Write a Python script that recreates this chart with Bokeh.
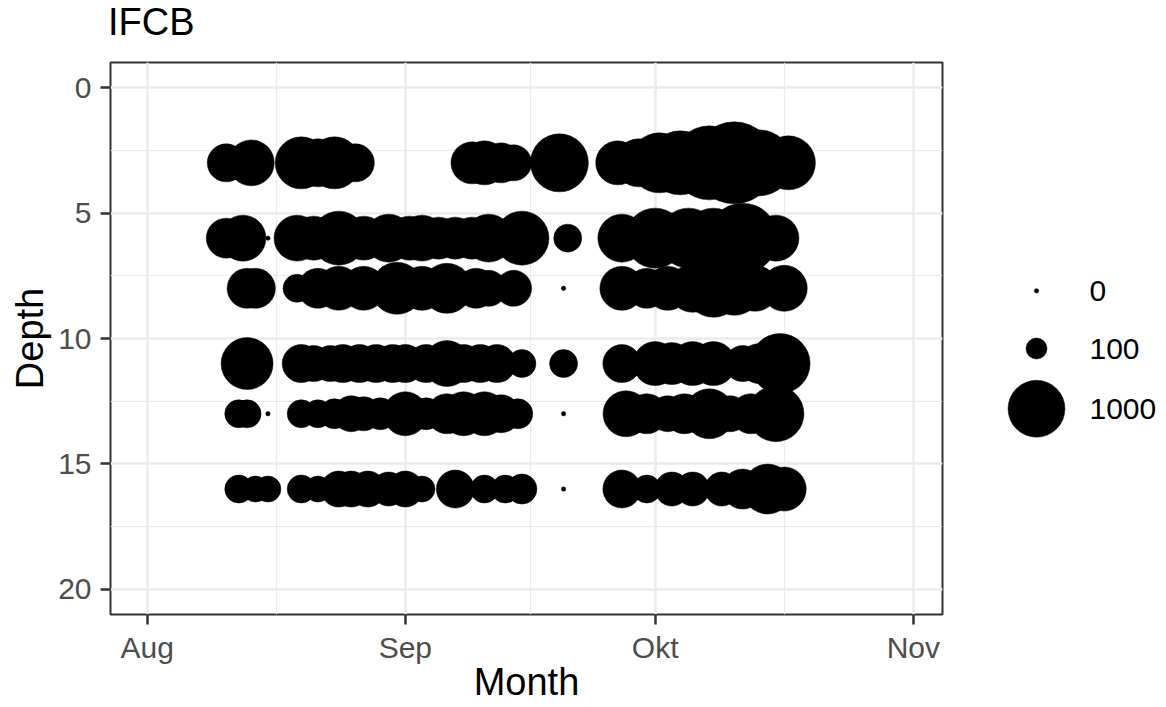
import numpy as np
import pandas as pd
from bokeh.plotting import figure
from bokeh.layouts import row, column
from bokeh.models import ColumnDataSource, Range1d, FixedTicker, SingleIntervalTicker, Div
from bokeh.embed import file_html
from bokeh.resources import INLINE
from bokeh.core.properties import value

title_text = "IFCB"
x_title = "Month"
y_title = "Depth"
month_starts = ["2021-08-01", "2021-09-01", "2021-10-01", "2021-11-01"]
month_labels = ["Aug", "Sep", "Okt", "Nov"]
month_mids = ["2021-08-16 12:00", "2021-09-16 00:00", "2021-10-16 12:00"]
legend_breaks = [0, 100, 1000]
depths = [3, 6, 8, 11, 13, 16]

dates_3 = ["2021-08-10 12:00", "2021-08-13 12:00", "2021-08-19 12:00", "2021-08-21 12:00",
           "2021-08-23 12:00", "2021-08-26 00:00", "2021-09-09 00:00", "2021-09-10 12:00",
           "2021-09-12 12:00", "2021-09-14 00:00", "2021-09-19 12:00", "2021-09-26 12:00",
           "2021-09-29 00:00", "2021-10-01 12:00", "2021-10-04 00:00", "2021-10-07 12:00",
           "2021-10-10 12:00", "2021-10-13 12:00", "2021-10-17 00:00"]
counts_3 = [410, 628, 822, 690, 822, 410, 513, 569, 460, 362, 1042, 569, 690, 1122, 1289,
            1758, 2184, 1377, 893]

dates_6 = ["2021-08-10 12:00", "2021-08-12 12:00", "2021-08-15 12:00", "2021-08-19 00:00",
           "2021-08-21 00:00", "2021-08-24 00:00", "2021-08-27 00:00", "2021-08-30 00:00",
           "2021-09-01 12:00", "2021-09-03 00:00", "2021-09-05 00:00", "2021-09-07 00:00",
           "2021-09-09 00:00", "2021-09-11 00:00", "2021-09-15 00:00", "2021-09-20 12:00",
           "2021-09-27 00:00", "2021-10-01 00:00", "2021-10-05 00:00", "2021-10-08 00:00",
           "2021-10-11 12:00", "2021-10-15 12:00"]
counts_6 = [460, 628, 0, 628, 569, 893, 569, 690, 569, 628, 513, 513, 513, 690, 893, 202,
            690, 1122, 1122, 1122, 1561, 628]

dates_8 = ["2021-08-13 00:00", "2021-08-14 00:00", "2021-08-19 00:00", "2021-08-21 12:00",
           "2021-08-24 00:00", "2021-08-27 00:00", "2021-08-31 00:00", "2021-09-03 00:00",
           "2021-09-06 00:00", "2021-09-09 12:00", "2021-09-11 00:00", "2021-09-14 00:00",
           "2021-09-20 00:00", "2021-09-27 00:00", "2021-09-30 00:00", "2021-10-02 12:00",
           "2021-10-05 12:00", "2021-10-08 00:00", "2021-10-10 12:00", "2021-10-13 00:00",
           "2021-10-16 12:00"]
counts_8 = [460, 460, 202, 460, 569, 569, 822, 569, 755, 460, 362, 362, 0, 569, 460, 569,
            690, 1042, 893, 628, 628]

dates_11 = ["2021-08-13 00:00", "2021-08-19 12:00", "2021-08-21 00:00", "2021-08-23 00:00",
            "2021-08-24 12:00", "2021-08-26 12:00", "2021-08-28 12:00", "2021-08-30 12:00",
            "2021-09-01 00:00", "2021-09-03 12:00", "2021-09-06 00:00", "2021-09-08 00:00",
            "2021-09-10 00:00", "2021-09-12 00:00", "2021-09-15 00:00", "2021-09-20 00:00",
            "2021-09-27 00:00", "2021-10-01 00:00", "2021-10-03 00:00", "2021-10-05 12:00",
            "2021-10-08 00:00", "2021-10-11 12:00", "2021-10-13 12:00", "2021-10-16 00:00"]
counts_11 = [822, 410, 362, 362, 410, 410, 410, 410, 410, 410, 628, 410, 410, 410, 202, 202,
             410, 569, 513, 569, 569, 362, 460, 1122]

dates_13 = ["2021-08-12 00:00", "2021-08-13 00:00", "2021-08-15 12:00", "2021-08-19 12:00",
            "2021-08-21 12:00", "2021-08-23 12:00", "2021-08-25 12:00", "2021-08-27 00:00",
            "2021-08-29 00:00", "2021-09-01 00:00", "2021-09-03 12:00", "2021-09-06 00:00",
            "2021-09-08 00:00", "2021-09-10 12:00", "2021-09-12 12:00", "2021-09-14 12:00",
            "2021-09-20 00:00", "2021-09-27 12:00", "2021-09-30 00:00", "2021-10-02 12:00",
            "2021-10-04 12:00", "2021-10-07 12:00", "2021-10-10 00:00", "2021-10-12 12:00",
            "2021-10-15 12:00"]
counts_13 = [202, 202, 0, 202, 202, 238, 362, 318, 276, 569, 276, 460, 569, 569, 410, 238,
             0, 628, 460, 362, 460, 755, 362, 460, 966]

dates_16 = ["2021-08-12 00:00", "2021-08-14 00:00", "2021-08-15 12:00", "2021-08-19 12:00",
            "2021-08-21 12:00", "2021-08-24 00:00", "2021-08-25 12:00", "2021-08-27 12:00",
            "2021-08-30 00:00", "2021-09-01 00:00", "2021-09-03 00:00", "2021-09-07 00:00",
            "2021-09-10 12:00", "2021-09-13 00:00", "2021-09-15 00:00", "2021-09-20 00:00",
            "2021-09-27 00:00", "2021-09-30 00:00", "2021-10-03 00:00", "2021-10-05 12:00",
            "2021-10-09 00:00", "2021-10-11 12:00", "2021-10-14 12:00", "2021-10-16 12:00"]
counts_16 = [202, 169, 169, 202, 169, 362, 362, 362, 318, 362, 169, 410, 202, 202, 238, 0,
             410, 202, 318, 318, 318, 460, 755, 569]

all_dates = [dates_3, dates_6, dates_8, dates_11, dates_13, dates_16]
all_counts = [counts_3, counts_6, counts_8, counts_11, counts_13, counts_16]

EPOCH = pd.Timestamp("1970-01-01")
def to_ms(s):
    return (pd.Timestamp(s) - EPOCH) / pd.Timedelta(milliseconds=1)

# area-like size scale (ggplot scale_size): radius in px grows with sqrt(count)
R0, RK = 2.2, 0.83
def diam(v):
    return 2.0 * (R0 + RK * np.sqrt(np.asarray(v, dtype=float)))

xs, ys, cs = [], [], []
for d, dl, cl in zip(depths, all_dates, all_counts):
    for s, c in zip(dl, cl):
        xs.append(to_ms(s))
        ys.append(d)
        cs.append(c)
src = ColumnDataSource(dict(x=xs, y=ys, count=cs, size=diam(cs)))

FONT = "Liberation Sans"
day_ms = 86400000.0
tick_ms = [to_ms(s) for s in month_starts]
mid_ms = [to_ms(s) for s in month_mids]
x_start = tick_ms[0] - 4.4 * day_ms
x_end = tick_ms[-1] + 3.5 * day_ms
Y_TOP, Y_BOT = -1, 21

TITLE_H = 48
TOP, FH, LEFT, FW, RIGHT = 62 - TITLE_H, 552, 110, 832, 10
LW = 212

title_div = Div(
    text=('<div style="font-family:\'Liberation Sans\',Arial,sans-serif;font-size:38px;'
          'line-height:38px;color:#000000;padding:3px 0 0 108px;white-space:nowrap;">'
          + title_text + '</div>'),
    width=LEFT + FW + RIGHT + LW, height=TITLE_H, margin=(0, 0, 0, 0))

p = figure(frame_width=FW, frame_height=FH,
           x_range=Range1d(x_start, x_end), y_range=Range1d(Y_BOT, Y_TOP),
           output_backend="svg", toolbar_location=None, title=None,
           min_border_left=LEFT, min_border_right=RIGHT, min_border_top=TOP,
           min_border_bottom=0)
p.background_fill_color = "white"
p.border_fill_color = "white"
p.outline_line_color = "#333333"
p.outline_line_width = 2

xt = FixedTicker(ticks=tick_ms, minor_ticks=mid_ms)
p.xaxis.ticker = xt
p.xgrid.ticker = xt
p.xaxis.major_label_overrides = {t: lab for t, lab in zip(tick_ms, month_labels)}
yt = SingleIntervalTicker(interval=5, num_minor_ticks=2)
p.yaxis.ticker = yt
p.ygrid.ticker = yt

for ax, lab in ((p.xaxis, x_title), (p.yaxis, y_title)):
    ax.axis_label = lab
    ax.axis_label_text_font = FONT
    ax.axis_label_text_font_size = "38px"
    ax.axis_label_text_font_style = "normal"
    ax.axis_label_text_color = "black"
    ax.major_label_text_font = FONT
    ax.major_label_text_font_size = "30px"
    ax.major_label_text_color = "#4D4D4D"
    ax.axis_line_color = None
    ax.major_tick_line_color = "#333333"
    ax.major_tick_line_width = 2.5
    ax.major_tick_out = 10
    ax.major_tick_in = 0
    ax.minor_tick_line_color = None
p.xaxis.axis_label_standoff = -6
p.xaxis.major_label_standoff = 6
p.yaxis.axis_label_standoff = 4
p.yaxis.major_label_standoff = 9

for g in (p.xgrid, p.ygrid):
    g.grid_line_color = "#EBEBEB"
    g.grid_line_width = 2.4
    g.minor_grid_line_color = "#EBEBEB"
    g.minor_grid_line_width = 1.2

p.scatter(x="x", y="y", size="size", source=src, fill_color="black",
          line_color="black", line_width=0.5)

# legend panel (same vertical frame as the main plot, x in pixels)
leg = figure(frame_width=LW, frame_height=FH, x_range=Range1d(0, LW),
             y_range=Range1d(Y_BOT, Y_TOP), title=None,
             output_backend="svg", toolbar_location=None,
             x_axis_location=None, y_axis_location=None,
             min_border_left=0, min_border_right=0, min_border_top=TOP,
             min_border_bottom=0)
leg.outline_line_color = None
leg.grid.visible = False
leg.background_fill_color = "white"
leg.border_fill_color = "white"
leg_y = [8.1, 10.4, 12.8]
key_x = 1036 - (LEFT + FW + RIGHT)
lab_x = 1089 - (LEFT + FW + RIGHT)
leg.scatter(x=[key_x] * len(legend_breaks), y=leg_y, size=diam(legend_breaks),
            fill_color="black", line_color="black", line_width=0.5)
leg.text(x=[lab_x] * len(legend_breaks), y=leg_y, text=[str(b) for b in legend_breaks],
         text_font=value(FONT), text_font_size=value("30px"), text_baseline="middle",
         text_align="left", text_color="black")

layout = column(title_div, row(p, leg))
open("out.html", "w").write(file_html(layout, INLINE))
